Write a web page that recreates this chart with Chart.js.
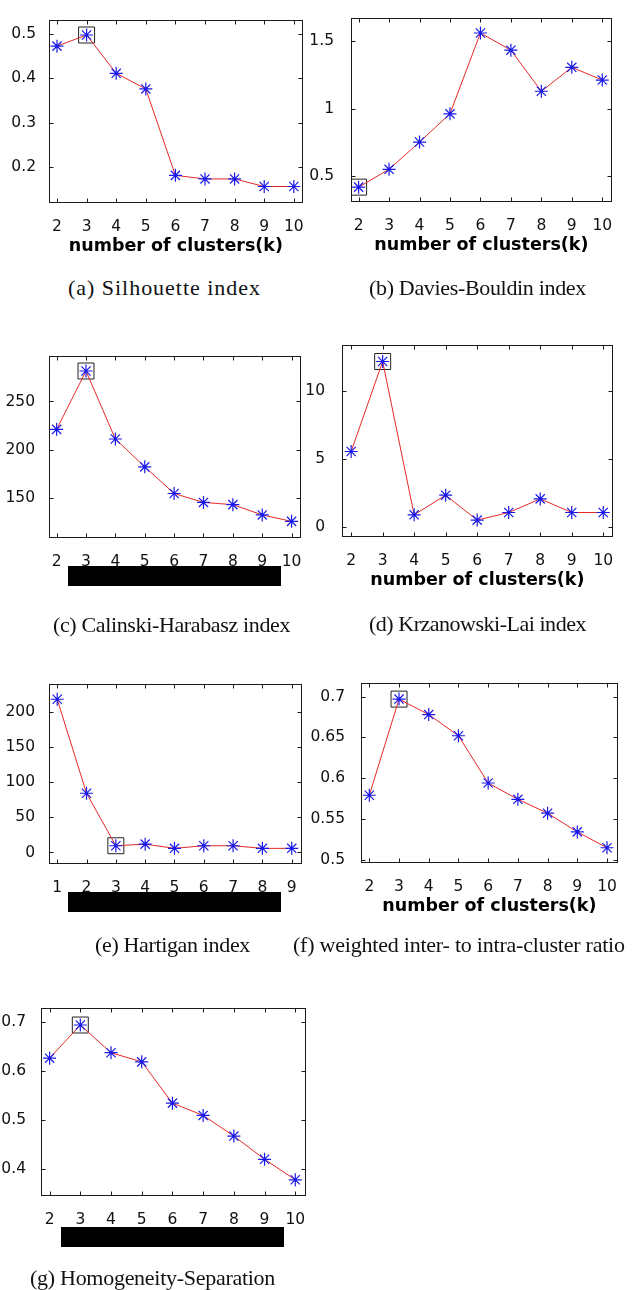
<!DOCTYPE html>
<html>
<head>
<meta charset="utf-8">
<script src="https://cdn.jsdelivr.net/npm/chart.js@4.4.1/dist/chart.umd.min.js"></script>
<style>
  body { margin: 0; background: #fff; }
  #page { position: relative; width: 633px; height: 1290px; overflow: hidden; }
  canvas { position: absolute; }
  .cap { position: absolute; font-family: "Liberation Serif", "Times New Roman", serif; font-size: 22px; line-height: 26px; white-space: nowrap; color: #111; }
  .bar { position: absolute; background: #000; }
</style>
</head>
<body>
<div id="page"></div>
<script>
// number of clusters on the x axis
const kRange = [2, 3, 4, 5, 6, 7, 8, 9, 10];
const kHartigan = [1, 2, 3, 4, 5, 6, 7, 8, 9];

// index values
const silhouette = [0.472, 0.497, 0.411, 0.376, 0.182, 0.174, 0.174, 0.157, 0.157];
const daviesBouldin = [0.42, 0.552, 0.754, 0.963, 1.561, 1.434, 1.13, 1.307, 1.213];
const calinski = [221, 281.7, 211, 182, 154.3, 145, 142.7, 132, 125.3];
const krzanowski = [5.53, 12.14, 0.88, 2.32, 0.49, 1.05, 2.05, 1.05, 1.05];
const hartigan = [218.3, 84.4, 9.6, 11.9, 5.9, 9.6, 9.6, 5.9, 5.9];
const weightedRatio = [0.579, 0.697, 0.678, 0.652, 0.594, 0.574, 0.557, 0.534, 0.5145];
const homogeneity = [0.6265, 0.694, 0.6376, 0.619, 0.535, 0.51, 0.468, 0.4207, 0.379];

// chosen k (boxed point) per index
const bestK = [3, 2, 3, 3, 3, 3, 3];

// tick labels
const silTicks = [0.2, 0.3, 0.4, 0.5];
const dbTicks = [0.5, 1, 1.5];
const chTicks = [150, 200, 250];
const klTicks = [0, 5, 10];
const hartTicks = [0, 50, 100, 150, 200];
const ratioTicks = [0.5, 0.55, 0.6, 0.65, 0.7];
const hsTicks = [0.4, 0.5, 0.6, 0.7];

const captions = [
  '(a) Silhouette index',
  '(b) Davies-Bouldin index',
  '(c) Calinski-Harabasz index',
  '(d) Krzanowski-Lai index',
  '(e) Hartigan index',
  '(f) weighted inter- to intra-cluster ratio',
  '(g) Homogeneity-Separation'
];
const xTitle = 'number of clusters(k)';

// layout: plot box [left, top, right, bottom], axis limits, caption position
const panels = [
  { ks: kRange, vals: silhouette, yTicks: silTicks, box: [49, 14, 307, 203], xr: [1.73, 10.3], yr: [0.12, 0.53], yPad: 5, xlabel: true, cap: [68, 288, 193] },
  { ks: kRange, vals: daviesBouldin, yTicks: dbTicks, box: [351, 8, 616, 202], xr: [1.75, 10.31], yr: [0.31, 1.67], yPad: 9, xlabel: true, cap: [369, 288, 217] },
  { ks: kRange, vals: calinski, yTicks: chTicks, box: [49, 349, 305, 538], xr: [1.74, 10.31], yr: [108, 297], yPad: 6, xlabel: false, cap: [53, 625, 237], bar: [68, 566, 213, 20] },
  { ks: kRange, vals: krzanowski, yTicks: klTicks, box: [342, 335, 617, 537], xr: [1.71, 10.3], yr: [-0.75, 13.33], yPad: 9, xlabel: true, cap: [369, 624, 217] },
  { ks: kHartigan, vals: hartigan, yTicks: hartTicks, box: [49, 677, 306, 864], xr: [0.72, 9.34], yr: [-16.4, 239.6], yPad: 6, xlabel: false, cap: [95, 945, 155], bar: [68, 892, 213, 20] },
  { ks: kRange, vals: weightedRatio, yTicks: ratioTicks, box: [361, 674, 622, 863], xr: [1.72, 10.36], yr: [0.4958, 0.7164], yPad: 8, xlabel: true, cap: [293, 945, 332] },
  { ks: kRange, vals: homogeneity, yTicks: hsTicks, box: [41, 1000, 310, 1196], xr: [1.72, 10.34], yr: [0.346, 0.728], yPad: 7, xlabel: false, cap: [30, 1278, 245], bar: [61, 1227, 223, 20] }
];

// MATLAB style frame with ticks pointing inward on all four sides
const frameTicks = {
  id: 'frameTicks',
  afterDraw(chart) {
    const { ctx, chartArea: a, scales: { x, y } } = chart;
    const L = Math.round(a.left) + 0.5, R = Math.round(a.right) - 0.5;
    const T = Math.round(a.top) + 0.5, B = Math.round(a.bottom) - 0.5;
    ctx.save();
    ctx.strokeStyle = '#1a1a1a';
    ctx.lineWidth = 1;
    ctx.beginPath();
    x.ticks.forEach(t => {
      const px = Math.round(x.getPixelForValue(t.value)) + 0.5;
      ctx.moveTo(px, B); ctx.lineTo(px, B - 4);
      ctx.moveTo(px, T); ctx.lineTo(px, T + 4);
    });
    y.ticks.forEach(t => {
      const py = Math.round(y.getPixelForValue(t.value)) + 0.5;
      ctx.moveTo(L, py); ctx.lineTo(L + 4, py);
      ctx.moveTo(R, py); ctx.lineTo(R - 4, py);
    });
    ctx.stroke();
    ctx.strokeRect(L, T, R - L, B - T);
    ctx.restore();
  }
};

const page = document.getElementById('page');
const Y_W = 50, X_H = 60, PAD = 8;

panels.forEach((p, i) => {
  const [l, t, r, b] = p.box;
  const cv = document.createElement('canvas');
  cv.width = r - l + Y_W + PAD;
  cv.height = b - t + PAD + X_H;
  cv.style.left = (l - Y_W) + 'px';
  cv.style.top = (t - PAD) + 'px';
  page.appendChild(cv);

  const pts = p.ks.map((k, j) => ({ x: k, y: p.vals[j] }));
  const best = pts.filter(d => d.x === bestK[i]);

  new Chart(cv, {
    type: 'line',
    data: {
      datasets: [
        {
          data: pts,
          borderColor: 'rgb(228, 40, 40)',
          borderWidth: 1,
          tension: 0,
          pointStyle: 'star',
          pointRadius: 6.5,
          pointBorderColor: 'rgb(25, 25, 235)',
          pointBorderWidth: 1.2,
          pointBackgroundColor: 'rgba(0,0,0,0)'
        },
        {
          data: best,
          showLine: false,
          pointStyle: 'rect',
          pointRadius: 11.3,
          pointBorderColor: '#222',
          pointBorderWidth: 1,
          pointBackgroundColor: 'rgba(0,0,0,0)'
        }
      ]
    },
    options: {
      responsive: false,
      animation: false,
      events: [],
      layout: { padding: { left: 0, top: PAD, right: PAD, bottom: 0 } },
      plugins: { legend: { display: false }, tooltip: { enabled: false } },
      scales: {
        x: {
          type: 'linear',
          min: p.xr[0],
          max: p.xr[1],
          afterBuildTicks: s => { s.ticks = p.ks.map(v => ({ value: v })); },
          afterFit: s => { s.height = X_H; },
          grid: { display: false },
          border: { display: false },
          ticks: {
            color: '#111',
            padding: 6.5,
            maxRotation: 0,
            autoSkip: false,
            font: { family: '"DejaVu Sans"', size: 15.5 },
            callback: v => String(v)
          },
          title: {
            display: p.xlabel,
            text: xTitle,
            color: '#000',
            padding: { top: 0, bottom: 6.5 },
            font: { family: '"DejaVu Sans"', size: 17.5, weight: 'bold' }
          }
        },
        y: {
          min: p.yr[0],
          max: p.yr[1],
          afterBuildTicks: s => { s.ticks = p.yTicks.map(v => ({ value: v })); },
          afterFit: s => { s.width = Y_W; },
          grid: { display: false },
          border: { display: false },
          ticks: {
            color: '#111',
            padding: p.yPad,
            autoSkip: false,
            font: { family: '"DejaVu Sans"', size: 15.5 },
            callback: v => String(+v.toFixed(3))
          }
        }
      }
    },
    plugins: [frameTicks]
  });

  if (p.bar) {
    const bar = document.createElement('div');
    bar.className = 'bar';
    bar.style.left = p.bar[0] + 'px';
    bar.style.top = p.bar[1] + 'px';
    bar.style.width = p.bar[2] + 'px';
    bar.style.height = p.bar[3] + 'px';
    page.appendChild(bar);
  }

  const cap = document.createElement('div');
  cap.className = 'cap';
  cap.textContent = captions[i];
  cap.style.left = p.cap[0] + 'px';
  cap.style.top = (p.cap[1] - 13) + 'px';
  page.appendChild(cap);
  // stretch the caption to the width it has in the figure
  const w = cap.getBoundingClientRect().width;
  cap.style.letterSpacing = ((p.cap[2] - w) / captions[i].length).toFixed(2) + 'px';
});
</script>
</body>
</html>
